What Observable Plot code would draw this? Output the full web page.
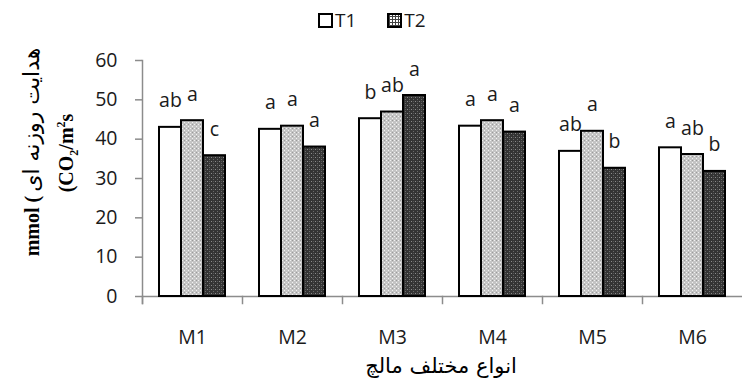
<!DOCTYPE html>
<html><head><meta charset="utf-8">
<script src="https://cdn.jsdelivr.net/npm/d3@7"></script>
<script src="https://cdn.jsdelivr.net/npm/@observablehq/plot@0.6"></script>
<style>
body{margin:0;background:#fff;}
#wrap{position:relative;width:743px;height:387px;overflow:hidden;font-family:"Open Sans",sans-serif;color:#1a1a1a;}
#wrap svg.chart{position:absolute;left:0;top:0;}
.legend{position:absolute;top:7px;left:318px;display:flex;align-items:center;font-size:19px;line-height:26px;}
.legend .item{display:flex;align-items:center;margin-right:31px;}
.legend .sw{display:inline-block;flex:none;width:11px;height:11px;border:2px solid #000;margin-right:2px;box-sizing:content-box;}
.xtitle{position:absolute;left:441px;top:366px;transform:translate(-50%,-50%);font-family:"DejaVu Sans",sans-serif;font-size:21px;white-space:nowrap;direction:rtl;color:#000;}
.ytitle{position:absolute;transform:translate(-50%,-50%) rotate(-90deg);white-space:nowrap;font-family:"Liberation Serif","DejaVu Sans",serif;color:#000;}
</style></head><body><div id="wrap"></div>
<script>
const categories = ["M1","M2","M3","M4","M5","M6"];
const series = ["T1","T2","T3"];
const t1 = [43.0, 42.5, 45.2, 43.3, 36.9, 37.8];
const t2 = [44.7, 43.3, 46.9, 44.7, 42.0, 36.1];
const t3 = [35.8, 38.0, 51.1, 41.8, 32.6, 31.8];
const letters1 = ["ab","a","b","a","ab","a"];
const letters2 = ["a","a","ab","a","a","ab"];
const letters3 = ["c","a","a","a","b","b"];
const yTicks = [0,10,20,30,40,50,60];
const legendLabels = ["T1","T2"];
const xTitle = "انواع مختلف مالچ";
const yTitle1 = "هدایت روزنه ای";
const yUnit = "mmol";

const values = {T1: t1, T2: t2, T3: t3};
const lets = {T1: letters1, T2: letters2, T3: letters3};
const data = categories.flatMap((c, i) => series.map(s => ({cat: c, s, v: values[s][i], l: lets[s][i]})));
const fills = {T1: "#ffffff", T2: "url(#pT2)", T3: "url(#pT3)"};

const axisGray = "#8c8c8c";
const chart = Plot.plot({
  width: 743, height: 387,
  marginLeft: 140, marginRight: 0, marginTop: 60, marginBottom: 91,
  style: {fontFamily: "'Open Sans', sans-serif", fontSize: "19px", color: "#1a1a1a", background: "transparent"},
  fx: {domain: categories, padding: 0, label: null},
  x: {domain: series, paddingInner: 0, paddingOuter: 0.685, axis: null},
  y: {domain: [0, 60], label: null},
  color: {type: "identity"},
  marks: [
    Plot.frame({anchor: "left", facet: "super", stroke: axisGray, strokeWidth: 1.5, insetBottom: -7}),
    Plot.frame({anchor: "left", stroke: axisGray, strokeWidth: 1.5, insetTop: 236, insetBottom: -7}),
    Plot.ruleY([0], {stroke: axisGray, strokeWidth: 1.5}),
    Plot.barY(data, {fx: "cat", x: "s", y: "v", fill: d => fills[d.s], stroke: "#000", strokeWidth: 2, inset: 0}),
    Plot.text(data, {fx: "cat", x: "s", y: "v", text: "l", lineAnchor: "bottom", dy: -20, fontSize: 19.5, fill: "#1a1a1a"}),
    Plot.axisY(yTicks, {tickSize: 7, tickPadding: 18, stroke: axisGray, strokeWidth: 1.5, label: null, fontSize: 19.5, tickFormat: d => String(d)}),
    Plot.axisFx({anchor: "bottom", tickSize: 0, tickPadding: 34, label: null, fontSize: 19.5})
  ]
});
chart.classList.add("chart");

// patterns
const svg = d3.select(chart);
const defs = svg.insert("defs", ":first-child");
const p2 = defs.append("pattern").attr("id", "pT2").attr("patternUnits", "userSpaceOnUse").attr("width", 4).attr("height", 4);
p2.append("rect").attr("width", 4).attr("height", 4).attr("fill", "#c4c4c4");
p2.append("rect").attr("x", 0).attr("y", 0).attr("width", 1).attr("height", 1).attr("fill", "#f2f2f2");
p2.append("rect").attr("x", 2).attr("y", 2).attr("width", 1).attr("height", 1).attr("fill", "#f2f2f2");
p2.append("rect").attr("x", 2).attr("y", 0).attr("width", 1).attr("height", 1).attr("fill", "#9a9a9a");
const p3 = defs.append("pattern").attr("id", "pT3").attr("patternUnits", "userSpaceOnUse").attr("width", 4).attr("height", 4);
p3.append("rect").attr("width", 4).attr("height", 4).attr("fill", "#343434");
p3.append("rect").attr("x", 1).attr("y", 1).attr("width", 1).attr("height", 1).attr("fill", "#8a8a8a");
p3.append("rect").attr("x", 3).attr("y", 3).attr("width", 1).attr("height", 1).attr("fill", "#6a6a6a");
p3.append("rect").attr("x", 3).attr("y", 1).attr("width", 1).attr("height", 1).attr("fill", "#555");

const wrap = document.getElementById("wrap");
wrap.appendChild(chart);

// legend
const legend = document.createElement("div");
legend.className = "legend";
legendLabels.forEach((lab, i) => {
  const item = document.createElement("div");
  item.className = "item";
  const sw = document.createElement("span");
  sw.className = "sw";
  sw.style.backgroundColor = "#fff";
  if (i === 1) sw.style.backgroundImage = "repeating-linear-gradient(0deg,#444 0 1px,transparent 1px 3px),repeating-linear-gradient(90deg,#444 0 1px,transparent 1px 3px)";
  const tx = document.createElement("span");
  tx.textContent = lab;
  item.appendChild(sw); item.appendChild(tx);
  legend.appendChild(item);
});
wrap.appendChild(legend);

// x title
const xt = document.createElement("div");
xt.className = "xtitle";
xt.textContent = xTitle;
wrap.appendChild(xt);

// y title line 1
const y1 = document.createElement("div");
y1.className = "ytitle";
y1.style.left = "31px"; y1.style.top = "152px";
y1.style.direction = "ltr";
y1.innerHTML = '<b style="font-size:20px">' + yUnit + ' (</b> <span style="font-family:\'DejaVu Sans\',sans-serif;font-size:22px">' + yTitle1 + '</span>';
wrap.appendChild(y1);

const y2 = document.createElement("div");
y2.className = "ytitle";
y2.style.left = "68px"; y2.style.top = "153px";
y2.style.fontWeight = "bold"; y2.style.fontSize = "20px";
y2.innerHTML = '(CO<sub style="font-size:12px">2</sub>/m<sup style="font-size:12px">2</sup>s';
wrap.appendChild(y2);
</script></body></html>
